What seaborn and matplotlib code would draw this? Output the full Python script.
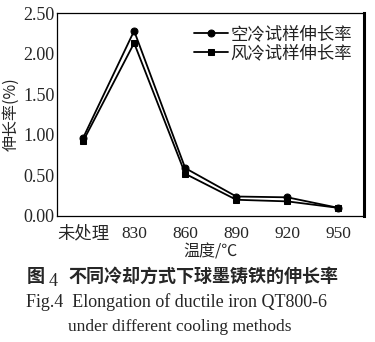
import matplotlib
matplotlib.use("Agg")
import matplotlib.pyplot as plt
import seaborn as sns
import pandas as pd

categories = ["未处理", "830", "860", "890", "920", "950"]
air_cooled = [0.96, 2.28, 0.59, 0.24, 0.23, 0.10]
blast_cooled = [0.92, 2.13, 0.52, 0.20, 0.18, 0.10]
series_names = ["空冷试样伸长率", "风冷试样伸长率"]
y_ticks = [0.0, 0.5, 1.0, 1.5, 2.0, 2.5]

sns.set_theme(style="white")
plt.rcParams["font.family"] = ["Liberation Serif", "Noto Sans CJK SC"]
plt.rcParams["axes.unicode_minus"] = False

df = pd.DataFrame({
    "x": list(range(len(categories))) * 2,
    "v": air_cooled + blast_cooled,
    "s": [series_names[0]] * len(categories) + [series_names[1]] * len(categories),
})

fig = plt.figure(figsize=(3.75, 3.42), dpi=100)
ax = fig.add_axes([57.5 / 375, 1 - 216 / 342, (364 - 57.5) / 375, (216 - 13) / 342])

sns.lineplot(data=df, x="x", y="v", hue="s", style="s", markers=["o", "s"], dashes=False,
             palette=["black", "black"], linewidth=1.3, markersize=5, ax=ax,
             markeredgecolor="black")

ax.set_xlim(-0.5, len(categories) - 0.5)
ax.set_ylim(0, 2.5)
ax.set_yticks(y_ticks)
ax.set_yticklabels([f"{t:.2f}" for t in y_ticks], fontsize=13,
                   family=["Liberation Serif"])
ax.set_xticks(range(len(categories)))
ax.set_xticklabels(categories, fontsize=12.5)
for lab in ax.get_xticklabels():
    lab.set_family(["Liberation Serif", "Noto Sans CJK SC"])
ax.tick_params(axis="x", which="major", length=0, pad=7)
ax.tick_params(axis="y", length=0, pad=2)
ax.set_xticks([i + 0.5 for i in range(len(categories) - 1)], minor=True)
ax.tick_params(axis="x", which="minor", direction="in", length=4, width=0.8, color="black")

for side in ["left", "top", "bottom"]:
    ax.spines[side].set_linewidth(0.9)
    ax.spines[side].set_color("black")
ax.spines["right"].set_linewidth(2.2)
ax.spines["right"].set_color("black")

ax.set_xlabel("温度/℃", fontsize=11.5, family=["Noto Sans CJK SC"], labelpad=1)
ax.set_ylabel("伸长率(%)", fontsize=11.5, family=["Noto Sans CJK SC", "Liberation Serif"], labelpad=3)

leg = ax.legend(loc="upper right", frameon=False, handlelength=2.0,
                handletextpad=0.1, borderaxespad=0.3, labelspacing=0.05,
                prop={"family": "Noto Sans CJK SC", "size": 12.5})
for t in leg.get_texts():
    t.set_color("#222222")

y1 = 1 - 276 / 342
fig.text(27 / 375, y1, "图", ha="left", va="center", fontsize=13, fontweight="bold",
         family=["Noto Sans CJK SC"])
fig.text(49 / 375, y1 - 5 / 342, "4", ha="left", va="center", fontsize=13,
         family=["Liberation Serif"])
fig.text(68 / 375, y1, "不同冷却方式下球墨铸铁的伸长率", ha="left", va="center",
         fontsize=13, fontweight="bold", family=["Noto Sans CJK SC"])
fig.text(26 / 375, 1 - 302 / 342, "Fig.4  Elongation of ductile iron QT800-6", ha="left", va="center",
         fontsize=13, family=["Liberation Serif"])
fig.text(180 / 375, 1 - 327 / 342, "under different cooling methods", ha="center", va="center",
         fontsize=12.5, family=["Liberation Serif"])

fig.savefig("out.png", dpi=100)
